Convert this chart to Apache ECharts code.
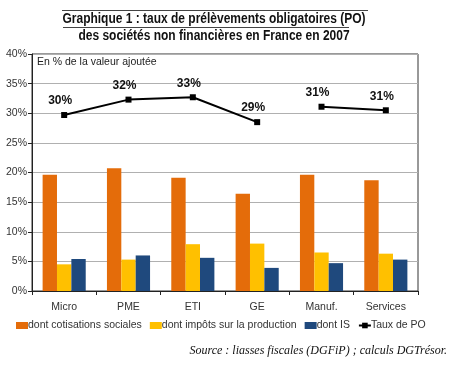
<!DOCTYPE html>
<html>
<head>
<meta charset="utf-8">
<script src="https://cdn.jsdelivr.net/npm/echarts@6/dist/echarts.min.js"></script>
<style>html,body{margin:0;padding:0;background:#fff;}#c{width:450px;height:367px;}</style>
</head>
<body>
<div id="c"></div>
<script>
var categories = ['Micro', 'PME', 'ETI', 'GE', 'Manuf.', 'Services'];
var cotisationsSociales = [19.6, 20.7, 19.1, 16.4, 19.6, 18.7];
var impotsProduction = [4.5, 5.3, 7.9, 8.0, 6.5, 6.3];
var dontIS = [5.4, 6.0, 5.6, 3.9, 4.7, 5.3];
var tauxPO = [29.7, 32.3, 32.7, 28.5, 31.1, 30.5];
var tauxPOLabels = ['30%', '32%', '33%', '29%', '31%', '31%'];
var lineSegments = [[0, 1, 2, 3], [4, 5]];
var yTicks = { min: 0, max: 40, interval: 5 };
var seriesNames = ['dont cotisations sociales', 'dont impôts sur la production', 'dont IS', 'Taux de PO'];
var titleLines = ['Graphique 1 : taux de prélèvements obligatoires (PO)', 'des sociétés non financières en France en 2007'];
var unitNote = 'En % de la valeur ajoutée';
var sourceNote = 'Source : liasses fiscales (DGFiP) ; calculs DGTrésor.';

var chart = echarts.init(document.getElementById('c'), null, { renderer: 'canvas' });
var sans = "'Liberation Sans', Arial, sans-serif";
var titleFont = "bold 14px 'Liberation Sans', Arial, sans-serif";

// condense the title font horizontally to mimic Arial Narrow
var ctx = document.createElement('canvas').getContext('2d');
ctx.font = titleFont;
var titleScale = 303 / ctx.measureText(titleLines[0]).width;

var lineData = tauxPO.map(function (v, i) {
  return { value: v, label: { formatter: tauxPOLabels[i] } };
});
var lineData1 = lineData.map(function (d, i) { return lineSegments[0].indexOf(i) >= 0 ? d : '-'; });
var lineData2 = lineData.map(function (d, i) { return lineSegments[1].indexOf(i) >= 0 ? d : '-'; });

var lineStyleSeries = function (data, name) {
  return {
    name: name,
    type: 'line',
    data: data,
    connectNulls: false,
    symbol: 'rect',
    symbolSize: 6,
    itemStyle: { color: '#000' },
    lineStyle: { color: '#000', width: 2 },
    label: {
      show: true,
      position: 'top',
      distance: 5,
      offset: [-4, 0],
      color: '#111',
      fontFamily: sans,
      fontWeight: 'bold',
      fontSize: 12
    },
    z: 5
  };
};

chart.setOption({
  animation: false,
  backgroundColor: '#fff',
  grid: { left: 32, right: 32, top: 54, bottom: 76, show: true, borderColor: '#333', borderWidth: 1, containLabel: false },
  xAxis: {
    type: 'category',
    data: categories,
    axisLine: { lineStyle: { color: '#222', width: 1 } },
    axisTick: { show: true, length: 4, lineStyle: { color: '#222' } },
    axisLabel: { color: '#333', fontFamily: sans, fontSize: 10.5, margin: 11 }
  },
  yAxis: {
    type: 'value',
    min: yTicks.min,
    max: yTicks.max,
    interval: yTicks.interval,
    axisLine: { show: true, lineStyle: { color: '#222' } },
    axisTick: { show: true, length: 4, inside: false, lineStyle: { color: '#222' } },
    axisLabel: { color: '#333', fontFamily: sans, fontSize: 10.5, margin: 5, formatter: '{value}%' },
    splitLine: { lineStyle: { color: '#b0b0b0', width: 1 } }
  },
  legend: {
    left: 11,
    top: 315,
    itemWidth: 12,
    itemHeight: 7,
    itemGap: 8,
    data: [
      { name: seriesNames[0], icon: 'rect' },
      { name: seriesNames[1], icon: 'rect' },
      { name: seriesNames[2], icon: 'rect' },
      { name: seriesNames[3] }
    ],
    textStyle: { color: '#333', fontFamily: sans, fontSize: 10.5, padding: [0, 0, 0, -5] }
  },
  graphic: [
    { type: 'line', shape: { x1: 62, y1: 10.5, x2: 368, y2: 10.5 }, style: { stroke: '#444', lineWidth: 1 } },
    { type: 'line', shape: { x1: 63, y1: 27.5, x2: 349, y2: 27.5 }, style: { stroke: '#444', lineWidth: 1 } },
    { type: 'text', x: 214, y: 19, scaleX: titleScale, style: { text: titleLines[0], textAlign: 'center', textVerticalAlign: 'middle', font: titleFont, fill: '#111' } },
    { type: 'text', x: 214, y: 36, scaleX: titleScale, style: { text: titleLines[1], textAlign: 'center', textVerticalAlign: 'middle', font: titleFont, fill: '#111' } },
    { type: 'text', x: 37, y: 62, style: { text: unitNote, textAlign: 'left', textVerticalAlign: 'middle', font: '10.5px ' + sans, fill: '#222' } },
    { type: 'text', x: 447, y: 351, style: { text: sourceNote, textAlign: 'right', textVerticalAlign: 'middle', font: 'italic 12px "Liberation Serif", "Times New Roman", serif', fill: '#111' } }
  ],
  series: [
    { name: seriesNames[0], type: 'bar', data: cotisationsSociales, barGap: '0%', barCategoryGap: '33%', itemStyle: { color: '#E46C0A' } },
    { name: seriesNames[1], type: 'bar', data: impotsProduction, itemStyle: { color: '#FFC000' } },
    { name: seriesNames[2], type: 'bar', data: dontIS, itemStyle: { color: '#1F497D' } },
    lineStyleSeries(lineData1, seriesNames[3]),
    lineStyleSeries(lineData2, seriesNames[3])
  ]
});
</script>
</body>
</html>
